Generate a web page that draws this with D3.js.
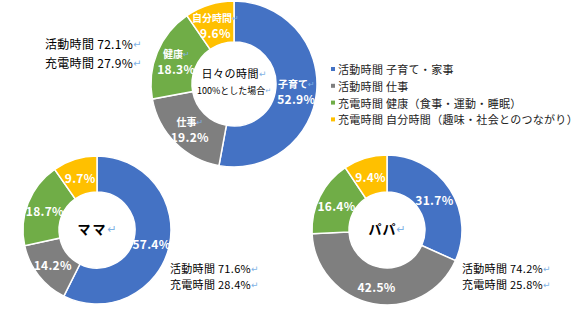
<!DOCTYPE html>
<html>
<head>
<meta charset="utf-8">
<script src="https://cdn.jsdelivr.net/npm/d3@7"></script>
<style>
  body { margin: 0; background: #fff; }
  text { font-family: "Noto Sans CJK JP", "DejaVu Sans", sans-serif; }
</style>
</head>
<body>
<div id="chart"></div>
<script>
// categories and values
var categories = ["子育て", "仕事", "健康", "自分時間"];
var legendLabels = ["活動時間 子育て・家事", "活動時間 仕事",
    "充電時間 健康（食事・運動・睡眠）", "充電時間 自分時間（趣味・社会とのつながり）"];
var totalValues = [52.9, 19.2, 18.3, 9.6];
var mamaValues = [57.4, 14.2, 18.7, 9.7];
var papaValues = [31.7, 42.5, 16.4, 9.4];
var totalSummary = ["活動時間 72.1%", "充電時間 27.9%"];
var mamaSummary = ["活動時間 71.6%", "充電時間 28.4%"];
var papaSummary = ["活動時間 74.2%", "充電時間 25.8%"];
var colors = ["#4472C4", "#7F7F7F", "#70AD47", "#FFC000"];

var width = 580, height = 320;
var markColor = "#7fb2e5";

var svg = d3.select("#chart").append("svg")
    .attr("width", width)
    .attr("height", height);

var color = d3.scaleOrdinal().domain(categories).range(colors);
var pie = d3.pie().sort(null).value(function(d) { return d.value; });

function fmt(v) {
    return v.toFixed(1) + "%";
}

// adds a text line with a trailing return mark
function addLine(g, x, y, str, size, weight, fill, anchor, mark, spacing) {
    var t = g.append("text")
        .attr("x", x)
        .attr("y", y)
        .attr("text-anchor", anchor)
        .attr("dominant-baseline", "central")
        .style("font-size", size + "px")
        .style("font-weight", weight)
        .style("letter-spacing", (spacing || 0) + "px")
        .attr("fill", fill);
    t.append("tspan").text(str);
    if (mark) {
        t.append("tspan")
            .attr("fill", markColor)
            .style("font-size", (size - 2) + "px")
            .style("font-weight", "normal")
            .style("letter-spacing", "0px")
            .text("↵");
    }
    return t;
}

function donut(values, cx, cy, outer, inner, showNames) {
    var data = values.map(function(v, i) { return {name: categories[i], value: v}; });
    var arc = d3.arc().outerRadius(outer).innerRadius(inner);
    var labelArc = d3.arc().outerRadius((outer + inner) / 2).innerRadius((outer + inner) / 2);

    var g = svg.append("g")
        .attr("transform", "translate(" + cx + "," + cy + ")");

    g.selectAll("path")
        .data(pie(data))
        .enter().append("path")
        .attr("d", arc)
        .attr("fill", function(d) { return color(d.data.name); })
        .attr("stroke", "#fff")
        .attr("stroke-width", 1.5);

    var labels = g.selectAll("g.lbl")
        .data(pie(data))
        .enter().append("g")
        .attr("class", "lbl")
        .attr("transform", function(d) {
            var c = labelArc.centroid(d);
            return "translate(" + c[0] + "," + c[1] + ")";
        });

    labels.each(function(d) {
        var l = d3.select(this);
        if (showNames) {
            addLine(l, 0, -7, d.data.name, 10, "bold", "#fff", "middle", true);
            addLine(l, 0, 8, fmt(d.data.value), 12, "bold", "#fff", "middle", false, 0.3);
        } else {
            addLine(l, 0, 0, fmt(d.data.value), 12, "bold", "#fff", "middle", false, 0.3);
        }
    });
    return g;
}

// top donut
var topG = donut(totalValues, 234, 84, 83, 42, true);
addLine(topG, 0, -11, "日々の時間", 11, "normal", "#000", "middle", true, 0.5);
addLine(topG, 0, 6, "100%とした場合", 9, "normal", "#000", "middle", true);

// mama / papa
var mamaG = donut(mamaValues, 97, 230, 74, 38, false);
addLine(mamaG, 0, -2, "ママ", 13, "bold", "#000", "middle", true, 2);
var papaG = donut(papaValues, 387, 230, 75, 38, false);
addLine(papaG, 0, -2, "パパ", 13, "bold", "#000", "middle", true, 1);

// summaries
totalSummary.forEach(function(s, i) {
    addLine(svg, 45, 43 + i * 19, s, 12, "normal", "#000", "start", true, 0.3);
});
mamaSummary.forEach(function(s, i) {
    addLine(svg, 170, 268 + i * 16, s, 11, "normal", "#000", "start", true, 0.3);
});
papaSummary.forEach(function(s, i) {
    addLine(svg, 462, 268 + i * 16, s, 11, "normal", "#000", "start", true, 0.3);
});

// legend
var legend = svg.append("g")
    .attr("transform", "translate(331,69)");
var ents = legend.selectAll("g")
    .data(legendLabels)
    .enter().append("g")
    .attr("transform", function(d, i) { return "translate(0," + (i * 16.8) + ")"; });
ents.append("rect")
    .attr("x", 0)
    .attr("y", -2)
    .attr("width", 4)
    .attr("height", 4)
    .attr("fill", function(d, i) { return colors[i]; });
ents.append("text")
    .attr("x", 7)
    .attr("y", 0)
    .attr("dominant-baseline", "central")
    .style("font-size", "11px")
    .style("letter-spacing", "0.3px")
    .attr("fill", "#222")
    .text(function(d) { return d; });
</script>
</body>
</html>
